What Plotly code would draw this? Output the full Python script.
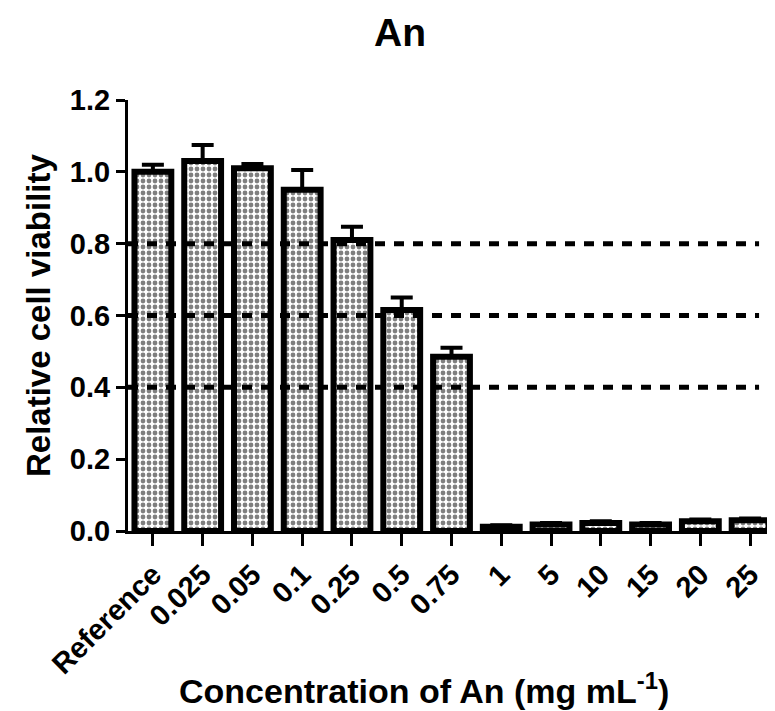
import plotly.graph_objects as go

categories = ["Reference", "0.025", "0.05", "0.1", "0.25", "0.5", "0.75",
              "1", "5", "10", "15", "20", "25"]
viability = [1.00, 1.03, 1.01, 0.95, 0.81, 0.615, 0.485,
             0.012, 0.018, 0.022, 0.018, 0.027, 0.030]
sd = [0.02, 0.045, 0.012, 0.055, 0.037, 0.035, 0.025,
      0.004, 0.004, 0.005, 0.004, 0.005, 0.005]
ref_levels = [0.8, 0.6, 0.4]
y_ticks = [0.0, 0.2, 0.4, 0.6, 0.8, 1.0, 1.2]

FONT = "Liberation Sans, Arial, sans-serif"

fig = go.Figure()
fig.add_trace(go.Bar(
    x=categories, y=viability,
    marker=dict(color="white",
                line=dict(color="black", width=6),
                pattern=dict(shape=".", fgcolor="black", bgcolor="white",
                             size=6, solidity=0.5)),
    error_y=dict(type="data", array=sd, arrayminus=[0] * len(sd),
                 symmetric=False, color="black", thickness=4, width=11),
    showlegend=False,
))

for lvl in ref_levels:
    fig.add_shape(type="line", xref="x", yref="y",
                  x0=-0.5, x1=12.18, y0=lvl, y1=lvl,
                  line=dict(color="black", width=5, dash="10px,9px"),
                  layer="above")

fig.update_layout(
    width=775, height=711,
    margin=dict(l=120, r=8, t=92, b=188),
    plot_bgcolor="white", paper_bgcolor="white",
    bargap=0.26,
    font=dict(family=FONT, color="black", weight="bold"),
    xaxis=dict(type="category", range=[-0.5, 12.5],
               showline=True, linecolor="black", linewidth=3,
               ticks="outside", ticklen=12, tickwidth=3, tickcolor="black",
               tickangle=-45, tickfont=dict(size=29, family=FONT, weight="bold"),
               showgrid=False, zeroline=False),
    yaxis=dict(range=[0, 1.2], tickvals=y_ticks,
               ticktext=[f"{v:.1f}" for v in y_ticks],
               showline=True, linecolor="black", linewidth=3,
               ticks="outside", ticklen=9, tickwidth=3, tickcolor="black",
               tickfont=dict(size=29, family=FONT, weight="bold"),
               showgrid=False, zeroline=False),
    annotations=[
        dict(text="An", xref="paper", yref="paper",
             x=(392 - 120) / 647, y=1 + (92 - 25) / 431,
             xanchor="center", yanchor="middle", showarrow=False,
             font=dict(size=39, family=FONT, weight="bold")),
        dict(text="Relative cell viability", xref="paper", yref="paper",
             x=(30 - 120) / 647, y=(523 - 308) / 431, textangle=-90,
             xanchor="center", yanchor="middle", showarrow=False,
             font=dict(size=33, family=FONT, weight="bold")),
        dict(text="Concentration of An (mg mL<sup>-1</sup>)",
             xref="paper", yref="paper",
             x=(416 - 120) / 647, y=-(680 - 523) / 431,
             xanchor="center", yanchor="middle", showarrow=False,
             font=dict(size=34, family=FONT, weight="bold")),
    ],
)

fig.write_html("out.html")
